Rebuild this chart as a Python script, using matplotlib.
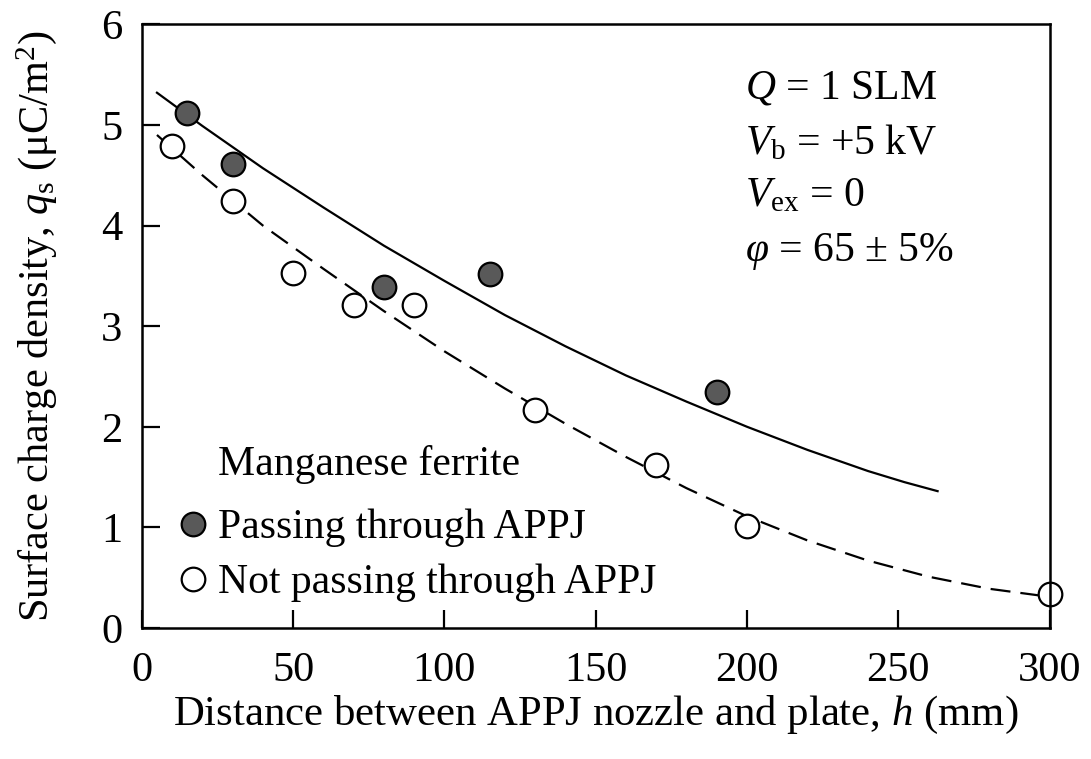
import numpy as np
import matplotlib.pyplot as plt

plt.rcParams['font.family'] = ['Liberation Serif', 'DejaVu Serif']
plt.rcParams['mathtext.fontset'] = 'custom'
plt.rcParams['mathtext.rm'] = 'Liberation Serif'
plt.rcParams['mathtext.it'] = 'Liberation Serif:italic'
plt.rcParams['font.size'] = 30

# measured points
h_pass = [15, 30, 80, 115, 190]
q_pass = [5.12, 4.61, 3.39, 3.52, 2.35]
h_not = [10, 30, 50, 70, 90, 130, 170, 200, 300]
q_not = [4.79, 4.24, 3.53, 3.21, 3.21, 2.17, 1.62, 1.01, 0.34]

# fitted curves
h_fit_pass = [5, 20, 40, 60, 80, 100, 120, 140, 160, 180, 200, 220, 240, 252, 263]
q_fit_pass = [5.32, 4.99, 4.57, 4.18, 3.80, 3.45, 3.11, 2.80, 2.51, 2.25, 2.00, 1.77, 1.56, 1.45, 1.36]
h_fit_not = [5, 20, 40, 60, 80, 100, 120, 140, 160, 180, 200, 220, 240, 260, 280, 300]
q_fit_not = [4.90, 4.50, 4.00, 3.57, 3.15, 2.75, 2.38, 2.03, 1.70, 1.39, 1.11, 0.87, 0.67, 0.51, 0.39, 0.31]

fig = plt.figure(figsize=(10.91, 7.59), dpi=100)
ax = fig.add_axes([0.130, 0.1726, 0.832, 0.7954])

ax.plot(h_fit_pass, q_fit_pass, '-', color='black', lw=1.6)
ax.plot(h_fit_not, q_fit_not, '--', color='black', lw=1.6, dashes=(9, 4.5))
p1, = ax.plot(h_pass, q_pass, 'o', ms=17, mfc='#595959', mec='black', mew=1.6, clip_on=False)
p2, = ax.plot(h_not, q_not, 'o', ms=17, mfc='white', mec='black', mew=1.6, clip_on=False)

ax.set_xlim(0, 300)
ax.set_ylim(0, 6)
ax.set_xticks(np.arange(0, 301, 50))
ax.set_yticks(np.arange(0, 7, 1))
ax.tick_params(direction='in', length=13, width=1.6, labelsize=30.5)
ax.tick_params(axis='x', pad=17)
ax.tick_params(axis='y', pad=14)
for s in ax.spines.values():
    s.set_linewidth(1.8)

ax.set_xlabel('Distance between APPJ nozzle and plate, $h$ (mm)', labelpad=3, fontsize=30.8)
ax.set_ylabel('Surface charge density, $q_\\mathrm{s}$ (\u03bcC/m$^2$)', labelpad=30, fontsize=30.5)

ax.text(0.665, 0.894, '$Q$ = 1 SLM', transform=ax.transAxes, va='center')
ax.text(0.665, 0.803, '$V_\\mathrm{b}$ = +5 kV', transform=ax.transAxes, va='center')
ax.text(0.665, 0.715, '$V_\\mathrm{ex}$ = 0', transform=ax.transAxes, va='center')
ax.text(0.665, 0.623, '$\\varphi$ = 65 \u00b1 5%', transform=ax.transAxes, va='center')

ax.text(0.084, 0.270, 'Manganese ferrite', transform=ax.transAxes, va='center')
ax.legend([p1, p2], ['Passing through APPJ', 'Not passing through APPJ'],
          loc='upper left', bbox_to_anchor=(0.006, 0.246), frameon=False,
          markerscale=1.0, handlelength=0.8, handletextpad=0.2,
          labelspacing=0.4, borderpad=0.2)

fig.savefig('out.png', dpi=100)
